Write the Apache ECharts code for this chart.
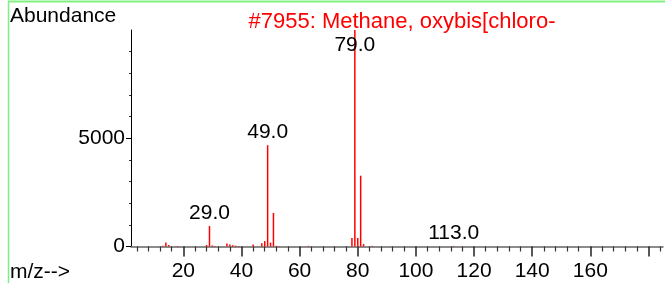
<!DOCTYPE html>
<html>
<head>
<meta charset="utf-8">
<script src="https://cdn.jsdelivr.net/npm/echarts@6/dist/echarts.min.js"></script>
<style>
html,body{margin:0;padding:0;background:#fff;}
#chart{width:665px;height:283px;}
</style>
</head>
<body>
<div id="chart"></div>
<script>
// m/z values of peaks and their abundances
const mz        = [13, 14, 15, 18, 28, 29, 30, 31, 35, 36, 37, 38, 39, 44, 47, 48, 49, 50, 51, 52, 53, 63, 78, 79, 80, 81, 82, 85, 113];
const abundance = [30, 180, 70, 20, 70, 950, 50, 20, 140, 90, 60, 40, 20, 90, 150, 250, 4680, 180, 1550, 30, 20, 30, 390, 9999, 390, 3270, 110, 30, 25];
const labeledPeaks = [29, 49, 79, 113];

const titleText = '#7955: Methane, oxybis[chloro-';
const yAxisName = 'Abundance';
const xAxisName = 'm/z-->';

const xLabelValues = [20, 40, 60, 80, 100, 120, 140, 160];
const xMajorTicks  = [20, 40, 60, 80, 100, 120, 140, 160, 180];
const xMinorTicks  = [4, 8, 12, 16, 24, 28, 32, 36, 44, 48, 52, 56, 64, 68, 72, 76, 84, 88, 92, 96,
                      104, 108, 112, 116, 124, 128, 132, 136, 144, 148, 152, 156, 164, 168, 172, 176, 184];
const yLabelValues = [0, 5000];
const yMinorTicks  = [1000, 2000, 3000, 4000, 6000, 7000, 8000, 9000];

const X_MIN = 2, X_MAX = 185, Y_MIN = 0, Y_MAX = 10000;
const FONT = 'Liberation Sans, Arial, Helvetica, sans-serif';
const FS = 21;

const chart = echarts.init(document.getElementById('chart'), null, {renderer: 'canvas'});

const seriesData = mz.map((m, i) => {
  const item = {value: [m, abundance[i]]};
  if (labeledPeaks.includes(m)) {
    const nearTop = abundance[i] > Y_MAX * 0.9;
    item.label = {
      show: true,
      formatter: m.toFixed(1),
      position: nearTop ? 'insideTop' : 'top',
      distance: nearTop ? 5 : 2,
      color: '#000',
      fontSize: FS,
      fontFamily: FONT
    };
  }
  return item;
});

const grid = {left: 131, right: 2, top: 30, bottom: 36.5};

const option = {
  animation: false,
  backgroundColor: '#fff',
  grid: grid,
  title: {
    text: titleText,
    left: 397, textAlign: 'center',
    top: 6,
    textStyle: {color: '#ff0000', fontSize: 22, fontWeight: 'normal', fontFamily: FONT}
  },
  graphic: [
    {type: 'line', shape: {x1: 8, y1: 1.5, x2: 665, y2: 1.5}, style: {stroke: '#80f080', lineWidth: 2}, silent: true},
    {type: 'line', shape: {x1: 8.5, y1: 1, x2: 8.5, y2: 283}, style: {stroke: '#80f080', lineWidth: 1.5}, silent: true},
    {type: 'text', left: 10, top: 6, style: {text: yAxisName, fill: '#000', font: FS + 'px ' + FONT}},
    {type: 'text', left: 10, top: 262, style: {text: xAxisName, fill: '#000', font: FS + 'px ' + FONT}}
  ],
  xAxis: [
    {
      type: 'value', min: X_MIN, max: X_MAX, position: 'bottom',
      splitLine: {show: false},
      axisLine: {show: true, onZero: false, lineStyle: {color: '#666', width: 1.5}},
      axisTick: {show: true, customValues: xMajorTicks, length: 10, lineStyle: {color: '#222', width: 1.5}},
      axisLabel: {show: true, customValues: xLabelValues, margin: 14, color: '#000', fontSize: FS, fontFamily: FONT,
                  formatter: v => String(v)}
    },
    {
      type: 'value', min: X_MIN, max: X_MAX, position: 'bottom', offset: 0,
      splitLine: {show: false},
      axisLine: {show: false},
      axisTick: {show: true, customValues: xMinorTicks, length: 5, lineStyle: {color: '#333', width: 1.2}},
      axisLabel: {show: false}
    }
  ],
  yAxis: [
    {
      type: 'value', min: Y_MIN, max: Y_MAX, position: 'left',
      splitLine: {show: false},
      axisLine: {show: true, onZero: false, lineStyle: {color: '#000', width: 1}},
      axisTick: {show: true, customValues: yLabelValues, length: 5, lineStyle: {color: '#000'}},
      axisLabel: {show: true, customValues: yLabelValues, margin: 6, color: '#000', fontSize: FS, fontFamily: FONT,
                  formatter: v => String(v)}
    },
    {
      type: 'value', min: Y_MIN, max: Y_MAX, position: 'left', offset: 0,
      splitLine: {show: false},
      axisLine: {show: false},
      axisTick: {show: true, customValues: yMinorTicks, length: 2, lineStyle: {color: '#333'}},
      axisLabel: {show: false}
    }
  ],
  series: [{
    type: 'bar',
    xAxisIndex: 0, yAxisIndex: 0,
    barWidth: 1.5,
    itemStyle: {color: '#ff0000'},
    data: seriesData
  }]
};
chart.setOption(option);
</script>
</body>
</html>
